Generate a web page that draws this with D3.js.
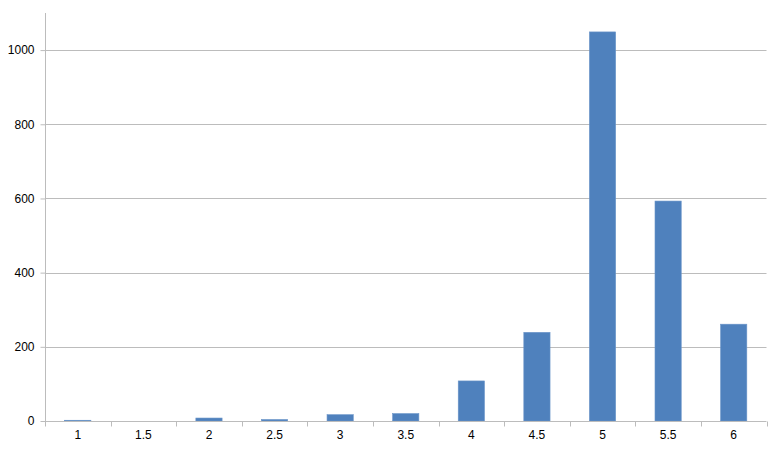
<!DOCTYPE html>
<html>
<head>
<meta charset="utf-8">
<script src="https://cdn.jsdelivr.net/npm/d3@7"></script>
<style>
  html, body { margin: 0; padding: 0; background: #fff; }
  svg { display: block; font-family: "Liberation Sans", Arial, sans-serif; }
</style>
</head>
<body>
<svg id="chart" width="780" height="450"></svg>
<script>
const categories = ["1", "1.5", "2", "2.5", "3", "3.5", "4", "4.5", "5", "5.5", "6"];
const values = [2, 0, 8, 4, 17, 20, 108, 239, 1049, 593, 261];
const yTicks = [0, 200, 400, 600, 800, 1000];

const svg = d3.select("#chart");
const margin = { left: 45, right: 14, top: 13, bottom: 29 };
const W = 780, H = 450;
const x0 = margin.left, x1 = W - margin.right + 0.5;
const y0 = H - margin.bottom, y1 = margin.top;

const x = d3.scaleBand().domain(categories).range([x0, x1]).paddingInner(0.6).paddingOuter(0.3);
const y = d3.scaleLinear().domain([0, 1100]).range([y0, y1]);

// gridlines
svg.append("g").selectAll("line").data(yTicks.filter(d => d > 0)).join("line")
  .attr("x1", x0).attr("x2", x1)
  .attr("y1", d => Math.round(y(d)) + 0.5).attr("y2", d => Math.round(y(d)) + 0.5)
  .attr("stroke", "#bcbcbc").attr("stroke-width", 1);

// bars
svg.append("g").selectAll("rect").data(values).join("rect")
  .attr("x", (d, i) => x(categories[i]))
  .attr("width", x.bandwidth())
  .attr("y", d => y(d))
  .attr("height", d => y(0) - y(d))
  .attr("fill", "#4f81bd")
  .attr("stroke", "#6a94c8").attr("stroke-width", 0.6);

// y axis
const yAxis = d3.axisLeft(y).tickValues(yTicks).tickSize(5).tickPadding(6).tickFormat(d3.format("d"));
const gy = svg.append("g").attr("transform", `translate(${x0 + 0.5},0)`).call(yAxis);
gy.select(".domain").attr("stroke", "#bcbcbc").attr("d", `M0,${y1}V${y0}`);
gy.selectAll(".tick line").attr("stroke", "#bcbcbc");
gy.selectAll(".tick text").attr("fill", "#000").style("font-size", "12px");

// x axis
const xAxis = d3.axisBottom(x).tickSize(0).tickPadding(9);
const gx = svg.append("g").attr("transform", `translate(0,${Math.round(y0) + 0.5})`).call(xAxis);
gx.select(".domain").attr("stroke", "#bcbcbc").attr("d", `M${x0},0H${x1}`);
gx.selectAll(".tick text").attr("fill", "#000").style("font-size", "12px");
// boundary ticks
const bounds = d3.range(categories.length + 1).map(i => x0 + i * (x1 - x0) / categories.length);
gx.append("g").selectAll("line").data(bounds).join("line")
  .attr("x1", d => Math.round(d) + 0.5).attr("x2", d => Math.round(d) + 0.5)
  .attr("y1", 0).attr("y2", 5).attr("stroke", "#bcbcbc");
</script>
</body>
</html>
